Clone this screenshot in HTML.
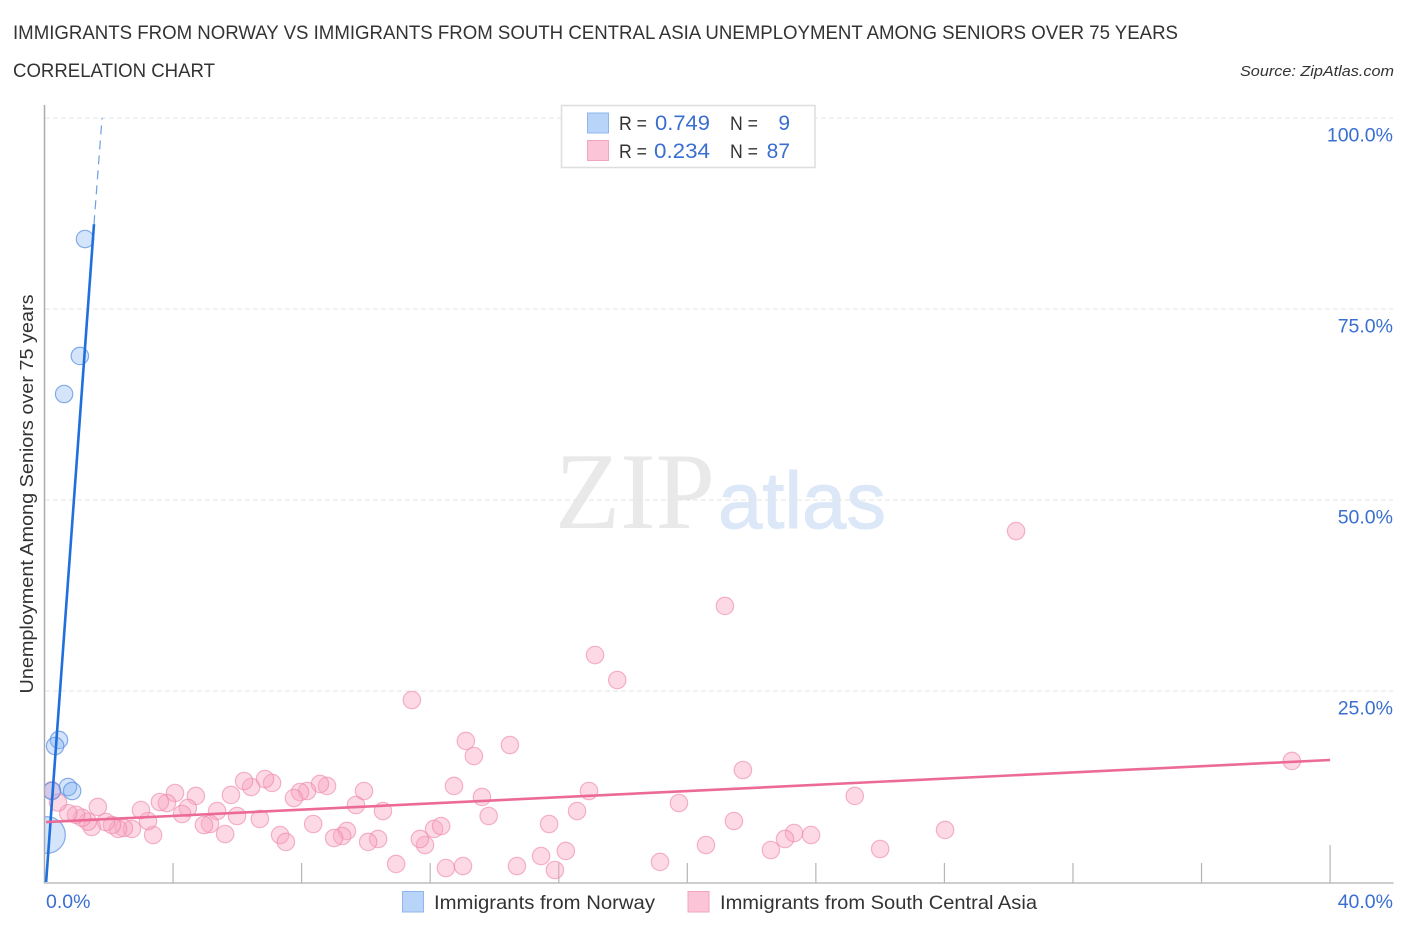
<!DOCTYPE html>
<html lang="en">
<head>
<meta charset="utf-8">
<title>Immigrants from Norway vs Immigrants from South Central Asia Unemployment Among Seniors over 75 Years Correlation Chart</title>
<style>
html,body{margin:0;padding:0;background:#fff;}
svg{display:block;font-family:"Liberation Sans",sans-serif;}
</style>
</head>
<body>
<svg id="chart" xmlns="http://www.w3.org/2000/svg" width="1406" height="930" viewBox="0 0 1406 930">
  <defs>
    <clipPath id="plot-clip"><rect x="45" y="100" width="1349" height="783"/></clipPath>
  </defs>
  <text x="13" y="39" font-size="19" fill="#333" textLength="1165" lengthAdjust="spacingAndGlyphs">IMMIGRANTS FROM NORWAY VS IMMIGRANTS FROM SOUTH CENTRAL ASIA UNEMPLOYMENT AMONG SENIORS OVER 75 YEARS</text>
  <text x="13" y="77" font-size="19" fill="#333" textLength="202" lengthAdjust="spacingAndGlyphs">CORRELATION CHART</text>
  <text x="1394" y="76" font-size="15" font-style="italic" fill="#333" text-anchor="end" textLength="154" lengthAdjust="spacingAndGlyphs">Source: ZipAtlas.com</text>

  <g id="watermark">
    <text x="555" y="528" font-family="'Liberation Serif',serif" font-size="109" fill="#e9e9e9" textLength="160" lengthAdjust="spacingAndGlyphs">ZIP</text>
    <text x="718" y="528" font-size="80" fill="#dce8f8" stroke="#dce8f8" stroke-width="1" textLength="168" lengthAdjust="spacingAndGlyphs">atlas</text>
  </g>

  <g id="grid"></g>
  <g id="axes"></g>
  <g id="pink-points" clip-path="url(#plot-clip)"></g>
  <g id="blue-points" clip-path="url(#plot-clip)"></g>
  <g id="trends"></g>
  <g id="tick-labels"></g>

  <text transform="translate(33,494) rotate(-90)" font-size="18.5" fill="#333" text-anchor="middle" textLength="399" lengthAdjust="spacingAndGlyphs">Unemployment Among Seniors over 75 years</text>

  <g>
    <rect x="561.5" y="105.5" width="253.5" height="62" fill="#fff" stroke="#dedede" stroke-width="1.5"/>
    <rect x="587.5" y="113" width="21" height="20" fill="#b9d4f9" stroke="#8fb5ec" stroke-width="1"/>
    <rect x="587.5" y="140.5" width="21" height="20" fill="#fcc5d7" stroke="#f2a5bf" stroke-width="1"/>
    <text x="619" y="130" font-size="19" fill="#333" textLength="28" lengthAdjust="spacingAndGlyphs">R =</text>
    <text x="655" y="130" font-size="21" fill="#3a6fd0" textLength="55" lengthAdjust="spacingAndGlyphs">0.749</text>
    <text x="730" y="130" font-size="19" fill="#333" textLength="28" lengthAdjust="spacingAndGlyphs">N =</text>
    <text x="790" y="130" font-size="21" fill="#3a6fd0" text-anchor="end">9</text>
    <text x="619" y="158" font-size="19" fill="#333" textLength="28" lengthAdjust="spacingAndGlyphs">R =</text>
    <text x="654" y="158" font-size="21" fill="#3a6fd0" textLength="56" lengthAdjust="spacingAndGlyphs">0.234</text>
    <text x="730" y="158" font-size="19" fill="#333" textLength="28" lengthAdjust="spacingAndGlyphs">N =</text>
    <text x="790" y="158" font-size="21" fill="#3a6fd0" text-anchor="end">87</text>
  </g>

  <g>
    <rect x="402.5" y="891.5" width="21" height="20.5" fill="#b9d4f9" stroke="#8fb5ec" stroke-width="1"/>
    <text x="434" y="909" font-size="19.5" fill="#333" textLength="221" lengthAdjust="spacingAndGlyphs">Immigrants from Norway</text>
    <rect x="688" y="891.5" width="21" height="20.5" fill="#fcc5d7" stroke="#f2a5bf" stroke-width="1"/>
    <text x="720" y="909" font-size="19.5" fill="#333" textLength="317" lengthAdjust="spacingAndGlyphs">Immigrants from South Central Asia</text>
  </g>
</svg>
<script>
var xTickValues = [4, 8, 12, 16, 20, 24, 28, 32, 36, 40];
var yTickValues = [25, 50, 75, 100];
var yTickLabels = ["25.0%", "50.0%", "75.0%", "100.0%"];
var xEndLabels = ["0.0%", "40.0%"];

var norwayX = [1.26, 1.10, 0.61, 0.45, 0.33, 0.73, 0.86, 0.23, 0.08];
var norwayY = [84.16, 68.85, 63.87, 18.59, 17.80, 12.43, 11.91, 11.91, 6.15];
var norwayWeight = [1, 1, 1, 1, 1, 1, 1, 1, 2.1];

var asiaX = [30.23, 21.17, 17.13, 17.82, 11.43, 13.11, 13.36, 14.48, 38.81, 21.73, 12.74, 16.94, 13.61, 25.21, 19.74, 16.57, 13.82, 21.45, 15.70, 28.02, 23.85, 23.32, 23.04, 22.60, 20.58, 26.00, 19.15, 16.22, 15.45, 15.88, 14.70, 13.02, 12.49, 10.94, 11.84, 11.68, 12.12, 12.34, 10.53, 9.69, 9.94, 10.38, 10.07, 9.41, 9.26, 9.01, 8.36, 8.79, 8.57, 8.17, 7.95, 7.76, 7.33, 7.51, 7.08, 6.86, 6.43, 6.21, 5.80, 5.99, 6.70, 5.62, 5.37, 5.15, 4.96, 4.71, 4.46, 4.28, 4.06, 3.81, 3.59, 3.38, 3.22, 3.00, 2.72, 2.47, 2.29, 2.10, 1.91, 1.66, 1.47, 1.35, 1.17, 0.98, 0.74, 0.42, 0.23];
var asiaY = [45.94, 36.13, 29.71, 26.44, 23.82, 18.46, 16.49, 17.93, 15.84, 14.66, 12.57, 11.91, 11.13, 11.26, 10.34, 9.29, 8.64, 7.98, 7.59, 6.81, 6.15, 6.41, 5.63, 4.19, 4.84, 4.32, 2.62, 4.06, 3.40, 1.57, 2.09, 2.09, 1.83, 2.36, 4.84, 5.63, 6.94, 7.33, 9.29, 10.08, 11.91, 5.63, 5.24, 6.68, 6.02, 5.76, 7.59, 12.57, 12.83, 11.91, 11.78, 10.99, 6.15, 5.24, 12.96, 13.48, 12.43, 13.22, 11.39, 8.64, 8.25, 6.28, 9.29, 7.59, 7.46, 11.26, 9.69, 8.90, 11.65, 10.34, 10.47, 6.15, 7.98, 9.42, 6.94, 7.07, 6.94, 7.46, 7.85, 9.82, 7.20, 7.90, 8.40, 8.80, 9.00, 10.40, 12.00];

var norwayTrendX = [0.05, 1.54];
var norwayTrendY = [0, 86.1];
var norwayTrendDashX = [1.54, 1.79];
var norwayTrendDashY = [86.1, 100];
var asiaTrendX = [0.05, 40];
var asiaTrendY = [7.85, 15.97];

var NS = "http://www.w3.org/2000/svg";
function xScale(v) { return 44.5 + v * 32.14; }
function yScale(v) { return 882 - v * 7.64; }
function make(tag, attrs, parent) {
  var el = document.createElementNS(NS, tag);
  for (var k in attrs) { el.setAttribute(k, attrs[k]); }
  parent.appendChild(el);
  return el;
}

var grid = document.getElementById("grid");
yTickValues.forEach(function (v) {
  var l = make("line", {x1: 45, x2: 1393, y1: yScale(v), y2: yScale(v), stroke: "#e3e3e3", "stroke-width": 1, "stroke-dasharray": "5 3"}, grid);
  
  
});

var axes = document.getElementById("axes");
var yAxis = make("line", {x1: 44.5, x2: 44.5, y1: 105, y2: 883, stroke: "#ababab", "stroke-width": 1.5}, axes);


var xAxis = make("line", {x1: 44, x2: 1393.5, y1: 883, y2: 883, stroke: "#bdbdbd", "stroke-width": 1.5}, axes);


xTickValues.forEach(function (v, i) {
  var top = i === xTickValues.length - 1 ? 845 : 863;
  var t = make("line", {x1: xScale(v), x2: xScale(v), y1: top, y2: 883, stroke: "#b5b5b5", "stroke-width": 1.2}, axes);
  
  
});

var pinkGroup = document.getElementById("pink-points");
asiaX.forEach(function (x, i) {
  var c = make("circle", {cx: xScale(x), cy: yScale(asiaY[i]), r: 8.7, fill: "rgba(249,165,192,0.42)", stroke: "rgba(238,135,170,0.62)", "stroke-width": 1.2}, pinkGroup);
  
  
});

var blueGroup = document.getElementById("blue-points");
norwayX.forEach(function (x, i) {
  var c = make("circle", {cx: xScale(x), cy: yScale(norwayY[i]), r: 8.7 * norwayWeight[i], fill: "rgba(130,175,240,0.34)", stroke: "rgba(85,140,225,0.7)", "stroke-width": 1.2}, blueGroup);
  
  
});

var trends = document.getElementById("trends");
var blueDash = make("line", {x1: xScale(norwayTrendDashX[0]), y1: yScale(norwayTrendDashY[0]), x2: xScale(norwayTrendDashX[1]), y2: yScale(norwayTrendDashY[1]), stroke: "#6d9fe3", "stroke-width": 1.2, "stroke-dasharray": "9 6"}, trends);


var blueLine = make("line", {x1: xScale(norwayTrendX[0]), y1: yScale(norwayTrendY[0]), x2: xScale(norwayTrendX[1]), y2: yScale(norwayTrendY[1]), stroke: "#1f6fdc", "stroke-width": 2.6}, trends);


var pinkLine = make("line", {x1: xScale(asiaTrendX[0]), y1: yScale(asiaTrendY[0]), x2: xScale(asiaTrendX[1]), y2: yScale(asiaTrendY[1]), stroke: "#ec6a98", "stroke-width": 2.6}, trends);



var labels = document.getElementById("tick-labels");
yTickValues.forEach(function (v, i) {
  var t = make("text", {x: 1393, y: yScale(v) + 23.5, "font-size": 19.5, fill: "#3a6fd0", "text-anchor": "end"}, labels);
  t.textContent = yTickLabels[i];
  
  
});
var x0 = make("text", {x: 46, y: 908, "font-size": 19.5, fill: "#3a6fd0"}, labels);
x0.textContent = xEndLabels[0];


var x1 = make("text", {x: 1393, y: 908, "font-size": 19.5, fill: "#3a6fd0", "text-anchor": "end"}, labels);
x1.textContent = xEndLabels[1];


</script>
</body>
</html>
